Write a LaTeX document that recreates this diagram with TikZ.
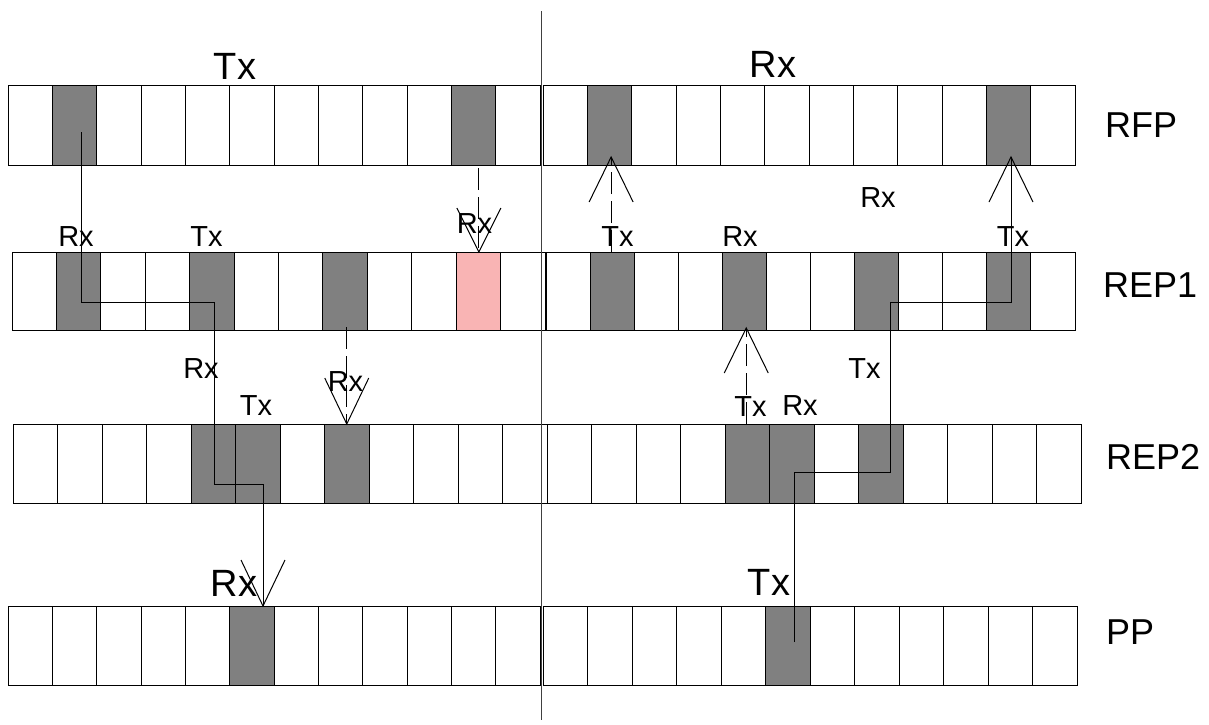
\documentclass[tikz,border=0pt]{standalone}
\usepackage{fontspec}
\setmainfont{Liberation Sans}
\usetikzlibrary{calc}
\definecolor{shade}{HTML}{808080}
\definecolor{pinkc}{HTML}{F9B4B4}
\newcommand{\openV}[2]{\draw[line width=1pt,solid] (#1) ++(-22,#2) -- (#1) -- ++(22,#2);}
\begin{document}
\begin{tikzpicture}[x=1pt,y=-1pt,
  cell/.style={draw,line width=1pt,inner sep=0pt,outer sep=0pt},
  conn/.style={line width=1pt},
  dsh/.style={dash pattern=on 22pt off 7pt},
  small/.style={font=\fontsize{29}{29}\selectfont,anchor=base,inner sep=0pt},
  big/.style={font=\fontsize{38}{38}\selectfont,anchor=base,inner sep=0pt},
  rowlab/.style={font=\fontsize{36}{36}\selectfont,anchor=base west,inner sep=0pt}]
\useasboundingbox (0,0) rectangle (1209,724);
\fill[white] (0,0) rectangle (1209,724);
% rows of cells
\foreach \r/\t/\b/\ls/\le/\rs/\re in {rfp/85/165/8/540/543/1075, repa/252/330/12/545/546/1075, repb/424/503/13/547/547/1081, pp/606/685/8/540/543/1077}{
  \pgfmathsetmacro\wl{(\le-\ls)/12}
  \pgfmathsetmacro\wr{(\re-\rs)/12}
  \pgfmathsetmacro\hh{\b-\t}
  \foreach \i in {1,...,12}{
    \node[cell,minimum width=\wl pt,minimum height=\hh pt,anchor=north west] (\r L\i) at ({\ls+(\i-1)*\wl},\t) {};
    \node[cell,minimum width=\wr pt,minimum height=\hh pt,anchor=north west] (\r R\i) at ({\rs+(\i-1)*\wr},\t) {};
  }
}
% shaded cells
\foreach \c in {rfpL2,rfpL11,rfpR2,rfpR11,repaL2,repaL5,repaL8,repaR2,repaR5,repaR8,repaR11,repbL5,repbL6,repbL8,repbR5,repbR6,repbR8,ppL6,ppR6}
  \draw[line width=1pt,fill=shade] (\c.north west) rectangle (\c.south east);
\draw[line width=1pt,fill=pinkc] (repaL11.north west) rectangle (repaL11.south east);
% divider
\coordinate (dtop) at (541,11);
\coordinate (dbot) at (541,720);
\draw[line width=1pt,black!75] (dtop) -- (dbot);
% connector 1 (solid, RFP Tx -> PP Rx)
\coordinate (c1s) at (81,132);
\coordinate (c1a) at (214,302);
\coordinate (c1b) at (263,484);
\coordinate (t1) at (c1b |- ppL6.north);
\draw[conn] (c1s) |- (c1a) |- (c1b) -- (t1);
\openV{t1}{-46}
% connector 2 (dashed, RFP -> REP1 pink)
\coordinate (s2) at ($(repaL11.north |- rfpL11.south)+(0.5,3)$);
\coordinate (t2) at ($(repaL11.north)+(0.5,0)$);
\draw[conn,dsh] (s2) -- (t2);
\openV{t2}{-44}
% connector 3 (dashed, REP1 -> RFP)
\coordinate (t3) at ($(repaR2.north |- rfpR2.south)+(-1,-8)$);
\draw[conn,dsh] ($(repaR2.north)+(-1,0)$) -- (t3);
\openV{t3}{45}
% connector 4 (solid, PP Tx -> RFP Rx)
\coordinate (c4s) at (794,642);
\coordinate (c4a) at (890,472);
\coordinate (c4b) at (1011,302);
\coordinate (t4) at ($(c4b |- rfpR11.south)+(0,-8)$);
\draw[conn] (c4s) |- (c4a) |- (c4b) -- (t4);
\openV{t4}{45}
% connector 5 (dashed, REP2 -> REP1)
\coordinate (t5) at ($(repbR5.north |- repaR5.south)+(-1,-2)$);
\draw[conn,dsh] ($(repbR5.north)+(-1,0)$) -- (t5);
\openV{t5}{45}
% connector 6 (dashed, REP1 -> REP2)
\coordinate (t6) at (repbL8.north);
\draw[conn,dsh] ($(repbL8.north |- repaL8.south)+(0,-3)$) -- (t6);
\openV{t6}{-46}
% big labels
\node[big] (lTxTop) at (235,79) {Tx};
\node[big] (lRxTop) at (773,77) {Rx};
\node[big] (lRxPP) at (234,596) {Rx};
\node[big] (lTxPP) at (769,595) {Tx};
% row labels
\node[rowlab] (nRFP) at (1105,137) {RFP};
\node[rowlab] (nREP1) at (1103,297) {REP1};
\node[rowlab] (nREP2) at (1106,469) {REP2};
\node[rowlab] (nPP) at (1106,644) {PP};
% small labels
\node[small] (s1) at (76,246) {Rx};
\node[small] (s2l) at (206.5,246) {Tx};
\node[small] (s3) at (474.5,233) {Rx};
\node[small] (s4) at (617.5,246) {Tx};
\node[small] (s5) at (740,246) {Rx};
\node[small] (s6) at (1013,246) {Tx};
\node[small] (s7) at (878,207) {Rx};
\node[small] (s8) at (201,378) {Rx};
\node[small] (s9) at (256,415) {Tx};
\node[small] (s10) at (345.5,391) {Rx};
\node[small] (s11) at (750.5,416) {Tx};
\node[small] (s12) at (800,415) {Rx};
\node[small] (s13) at (864.5,378) {Tx};
\end{tikzpicture}
\end{document}
